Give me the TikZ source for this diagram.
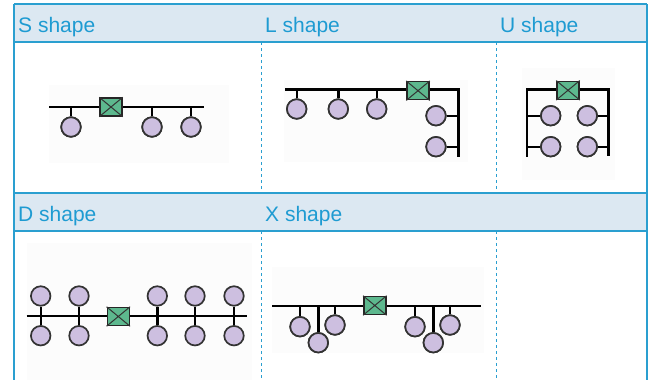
\documentclass[tikz,border=0pt]{standalone}
\usepackage{fontspec}
\setmainfont{Liberation Sans}
\definecolor{rule}{HTML}{2A9FD0}
\definecolor{headfill}{HTML}{DCE8F2}
\definecolor{headtext}{HTML}{1E9BD2}
\definecolor{hostfill}{HTML}{CDBFE0}
\definecolor{hoststroke}{HTML}{333333}
\definecolor{swfill}{HTML}{5DB88E}
\definecolor{panel}{HTML}{FCFCFC}
\tikzset{
  host/.style={circle, draw=hoststroke, line width=1.7pt, fill=hostfill, minimum size=19.5pt, inner sep=0pt},
  switchbox/.style={rectangle, draw=black!85, line width=1.5pt, fill=swfill, minimum width=22pt, minimum height=18pt, inner sep=0pt},
  wire/.style={line width=2.4pt, black},
  headtxt/.style={anchor=base west, text=headtext, font=\fontsize{21}{25}\selectfont, inner sep=0pt},
  sep/.style={rule, line width=0.9pt, dash pattern=on 3pt off 3pt},
  hrule/.style={rule, line width=1.6pt},
  bg/.style={fill=panel, draw=none}
}
\newcommand{\swx}[1]{\draw[black!80, line width=1pt] (#1.north west) -- (#1.south east) (#1.north east) -- (#1.south west);}
\begin{document}
\begin{tikzpicture}[x=1pt,y=-1pt]
\useasboundingbox (0,0) rectangle (651,380);
% header bands
\fill[headfill] (14,4) rectangle (647,42);
\fill[headfill] (14,193) rectangle (647,231);
% column separators (body rows only)
\draw[sep] (261,42) -- (261,193);
\draw[sep] (496,42) -- (496,193);
\draw[sep] (261,231) -- (261,380);
\draw[sep] (496,231) -- (496,380);
% horizontal rules and outer frame
\draw[hrule] (14,4) -- (647,4);
\draw[hrule] (14,42) -- (647,42);
\draw[hrule] (14,193) -- (647,193);
\draw[hrule] (14,231) -- (647,231);
\draw[rule, line width=1.6pt] (14,4) -- (14,380);
\draw[rule, line width=1.6pt] (647,4) -- (647,380);
% headings
\node[headtxt] (hS) at (18,32) {S shape};
\node[headtxt] (hL) at (265,32) {L shape};
\node[headtxt] (hU) at (500,32) {U shape};
\node[headtxt] (hD) at (18,221) {D shape};
\node[headtxt] (hX) at (265,221) {X shape};

% ---------- S shape ----------
\fill[bg] (49,85) rectangle (229,163);
\coordinate (s0) at (49,106.7);
\coordinate (s1) at (204,106.7);
\draw[wire] (s0) -- (s1);
\node[switchbox] (sw1) at (111,107) {};
\swx{sw1}
\node[host] (s_a) at (71,127) {};
\node[host] (s_b) at (152,127) {};
\node[host] (s_c) at (191,127) {};
\foreach \h in {s_a,s_b,s_c} \draw[wire] (\h.north) -- (\h.north |- s0);
\foreach \h in {s_a,s_b,s_c} \node[host] at (\h) {};

% ---------- L shape ----------
\fill[bg] (284,80) rectangle (468,162);
\coordinate (l0) at (285,89.5);
\coordinate (l1) at (458.3,89.5);
\coordinate (l2) at (458.3,156.7);
\draw[wire] (l0) -- (l1) -- (l2);
\node[switchbox] (sw2) at (418,90.7) {};
\swx{sw2}
\node[host] (l_a) at (296.7,109) {};
\node[host] (l_b) at (338.3,109) {};
\node[host] (l_c) at (376.7,109) {};
\node[host] (l_d) at (436,115.7) {};
\node[host] (l_e) at (436,146.7) {};
\foreach \h in {l_a,l_b,l_c} \draw[wire] (\h.north) -- (\h.north |- l0);
\foreach \h in {l_d,l_e} \draw[wire] (\h.east) -- (\h.east -| l1);
\foreach \h in {l_a,l_b,l_c,l_d,l_e} \node[host] at (\h) {};

% ---------- U shape ----------
\fill[bg] (521.7,68) rectangle (615,180);
\coordinate (u0) at (526.7,156.7);
\coordinate (u1) at (526.7,89.3);
\coordinate (u2) at (608.3,89.3);
\coordinate (u3) at (608.3,155.5);
\draw[wire] (u0) -- (u1) -- (u2) -- (u3);
\node[switchbox] (sw3) at (568,90.3) {};
\swx{sw3}
\node[host] (u_a) at (550.7,115.7) {};
\node[host] (u_b) at (550.7,146.7) {};
\node[host] (u_c) at (587.3,115.7) {};
\node[host] (u_d) at (587.3,146.7) {};
\foreach \h in {u_a,u_b} \draw[wire] (\h.west) -- (\h.west -| u1);
\foreach \h in {u_c,u_d} \draw[wire] (\h.east) -- (\h.east -| u2);
\foreach \h in {u_a,u_b,u_c,u_d} \node[host] at (\h) {};

% ---------- D shape ----------
\fill[bg] (27,243) rectangle (252,380);
\coordinate (d0) at (26.7,316);
\coordinate (d1) at (247.3,316);
\draw[wire] (d0) -- (d1);
\node[switchbox] (sw4) at (118.3,316.5) {};
\swx{sw4}
\foreach \x [count=\i] in {40.7,79,157.3,195,234} {
  \node[host] (dt\i) at (\x,296) {};
  \node[host] (db\i) at (\x,335.7) {};
  \draw[wire] (dt\i.south) -- (db\i.north);
}

% ---------- X shape ----------
\fill[bg] (272,267) rectangle (484,353);
\coordinate (x0) at (272.3,305.7);
\coordinate (x1) at (481,305.7);
\draw[wire] (x0) -- (x1);
\node[switchbox] (sw5) at (374.8,305.5) {};
\swx{sw5}
\node[host] (x_a) at (300,326.7) {};
\node[host] (x_b) at (318.3,342.7) {};
\node[host] (x_c) at (335,325) {};
\node[host] (x_d) at (415,326.7) {};
\node[host] (x_e) at (433.3,342.7) {};
\node[host] (x_f) at (450,325) {};
\foreach \h in {x_a,x_b,x_c,x_d,x_e,x_f} \draw[wire] (\h.north) -- (\h.north |- x0);
\foreach \h in {x_a,x_b,x_c,x_d,x_e,x_f} \node[host] at (\h) {};
\end{tikzpicture}
\end{document}
